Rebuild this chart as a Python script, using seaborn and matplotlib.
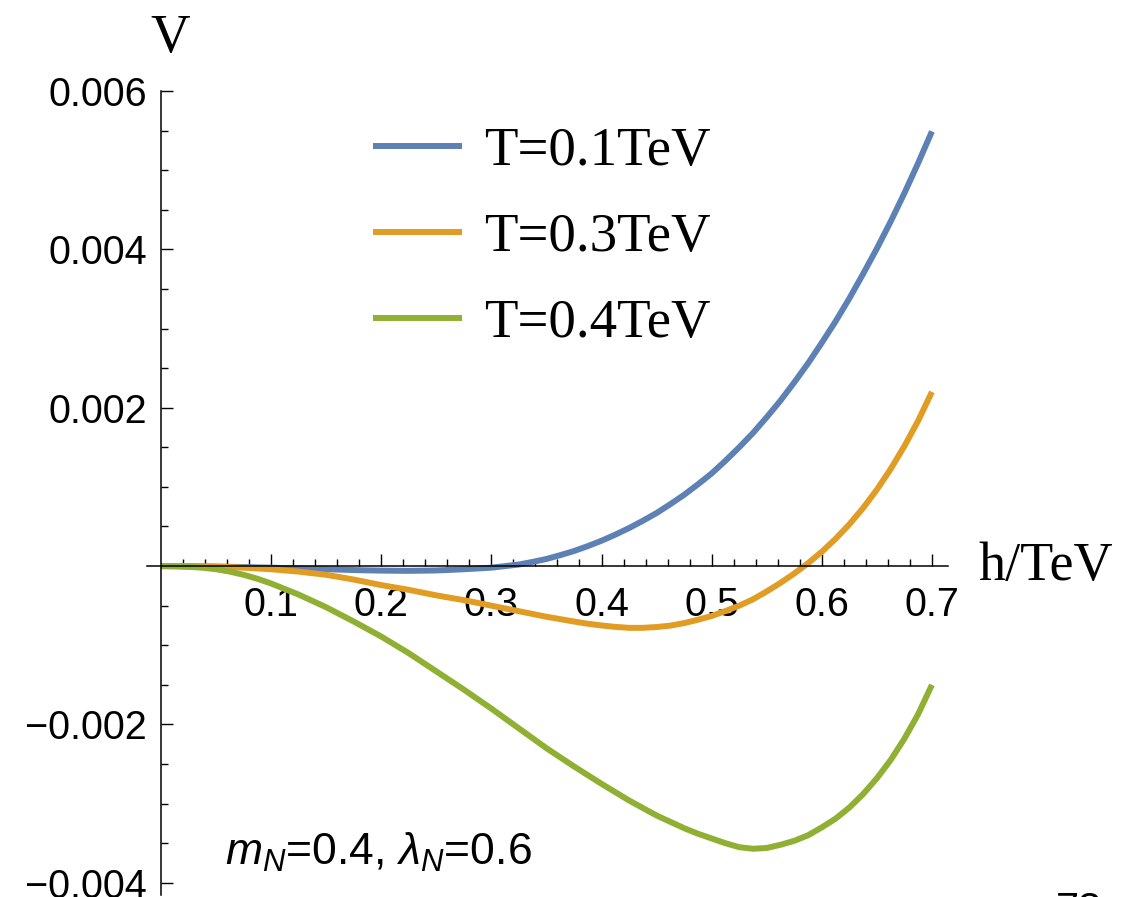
import matplotlib
matplotlib.use("Agg")
import matplotlib.pyplot as plt
import numpy as np
import pandas as pd
import seaborn as sns
from matplotlib.ticker import FixedLocator, FuncFormatter

# Effective potential V(h) at three temperatures (m_N = 0.4, lambda_N = 0.6)
h_vals = [0.0, 0.0125, 0.025, 0.0375, 0.05, 0.0625, 0.075, 0.0875, 0.1, 0.1125,
          0.125, 0.1375, 0.15, 0.1625, 0.175, 0.1875, 0.2, 0.2125, 0.225, 0.2375,
          0.25, 0.2625, 0.275, 0.2875, 0.3, 0.3125, 0.325, 0.3375, 0.35, 0.3625,
          0.375, 0.3875, 0.4, 0.4125, 0.425, 0.4375, 0.45, 0.4625, 0.475, 0.4875,
          0.5, 0.5125, 0.525, 0.5375, 0.55, 0.5625, 0.575, 0.5875, 0.6, 0.6125,
          0.625, 0.6375, 0.65, 0.6625, 0.675, 0.6875, 0.7]

v_T01 = [0.0, -0.0000005, -0.000002, -0.000004, -0.000006, -0.000009, -0.000012,
         -0.000016, -0.00002, -0.000025, -0.00003, -0.000035, -0.00004, -0.000045,
         -0.00005, -0.000054, -0.000057, -0.000059, -0.00006, -0.000058, -0.000055,
         -0.000048, -0.00004, -0.00003, -0.00002, 0.0, 0.00002, 0.000053, 0.00009,
         0.000138, 0.00019, 0.000252, 0.00032, 0.000397, 0.00048, 0.000572, 0.00067,
         0.000782, 0.0009, 0.001032, 0.00117, 0.00133, 0.0015, 0.00168, 0.00188,
         0.00209, 0.00232, 0.00256, 0.00282, 0.00309, 0.00338, 0.00369, 0.00401,
         0.00435, 0.00471, 0.00509, 0.00549]

v_T03 = [0.0, -0.0000005, -0.000002, -0.000005, -0.000008, -0.000013, -0.00002,
         -0.00003, -0.00004, -0.000055, -0.00007, -0.00009, -0.00011, -0.00014,
         -0.00017, -0.000205, -0.00024, -0.00027, -0.0003, -0.000335, -0.00037,
         -0.0004, -0.00043, -0.000465, -0.0005, -0.000535, -0.00057, -0.000605,
         -0.00064, -0.00067, -0.0007, -0.000728, -0.00075, -0.000768, -0.00078,
         -0.00078, -0.00077, -0.000752, -0.00072, -0.000678, -0.00063, -0.000568,
         -0.0005, -0.00042, -0.00032, -0.000212, -0.000094, 0.000036, 0.000181,
         0.000344, 0.000527, 0.000733, 0.000965, 0.001225, 0.001515, 0.001835, 0.0022]

v_T04 = [0.0, -0.000003, -0.00001, -0.00002, -0.00004, -0.00007, -0.00011, -0.00016,
         -0.00022, -0.00029, -0.00036, -0.00044, -0.00052, -0.00061, -0.0007,
         -0.000795, -0.00089, -0.000995, -0.0011, -0.001215, -0.00133, -0.001445,
         -0.00156, -0.00168, -0.0018, -0.001925, -0.00205, -0.002175, -0.0023,
         -0.002415, -0.00253, -0.00264, -0.00275, -0.002855, -0.00296, -0.003055,
         -0.00315, -0.00323, -0.00331, -0.00338, -0.00344, -0.0035, -0.00355,
         -0.00357, -0.00356, -0.00352, -0.00347, -0.0034, -0.0033, -0.00319,
         -0.00305, -0.00288, -0.00268, -0.00245, -0.00218, -0.00187, -0.0015]

series_labels = ["T=0.1TeV", "T=0.3TeV", "T=0.4TeV"]
series_colors = ["#5E81B5", "#E19C24", "#8FB032"]

x_major = [0.1, 0.2, 0.3, 0.4, 0.5, 0.6, 0.7]
y_major = [-0.004, -0.002, 0.002, 0.004, 0.006]

df = pd.concat([
    pd.DataFrame({"h": h_vals, "V": v, "T": lab})
    for v, lab in zip([v_T01, v_T03, v_T04], series_labels)
], ignore_index=True)

sns.set_style("white")
plt.rcParams["font.family"] = ["Liberation Sans", "DejaVu Sans"]
plt.rcParams["mathtext.fontset"] = "custom"
plt.rcParams["mathtext.rm"] = "Liberation Sans"
plt.rcParams["mathtext.it"] = "Liberation Sans:italic"
plt.rcParams["axes.unicode_minus"] = True
for key in ("text.color", "axes.labelcolor", "xtick.color", "ytick.color"):
    plt.rcParams[key] = "black"

W, H = 1132, 897
fig = plt.figure(figsize=(W / 100, H / 100), dpi=100)
ax = fig.add_axes([147 / W, 1 - 895 / H, (948 - 147) / W, (895 - 91) / H])

sns.lineplot(data=df, x="h", y="V", hue="T", hue_order=series_labels,
             palette=series_colors, linewidth=4.3, errorbar=None,
             solid_capstyle="butt", ax=ax)

ax.set_xlim(-0.0127, 0.7146)
ax.set_ylim(-0.004154, 0.006)

# Axes crossing at the origin
for side in ("top", "right"):
    ax.spines[side].set_visible(False)
ax.spines["left"].set_position(("data", 0))
ax.spines["bottom"].set_position(("data", 0))
for side in ("left", "bottom"):
    ax.spines[side].set_linewidth(1.1)
    ax.spines[side].set_color("black")

ax.xaxis.set_major_locator(FixedLocator(x_major))
ax.xaxis.set_minor_locator(FixedLocator(
    [k * 0.02 for k in range(1, 36) if k % 5 != 0]))
ax.yaxis.set_major_locator(FixedLocator(y_major))
ax.yaxis.set_minor_locator(FixedLocator(
    [k * 0.0005 for k in range(-8, 13) if k % 4 != 0]))
ax.xaxis.set_major_formatter(FuncFormatter(lambda v, p: f"{v:.1f}"))
ax.yaxis.set_major_formatter(FuncFormatter(lambda v, p: f"{v:.3f}".replace("-", "\u2212")))

ax.tick_params(which="both", bottom=True, left=True, top=False, right=False)
ax.tick_params(which="major", direction="in", length=8.5, width=1.0,
               color="black", labelsize=28.5, labelcolor="black")
ax.tick_params(which="minor", direction="in", length=5, width=1.0, color="black")
ax.tick_params(axis="x", which="major", pad=14)
ax.tick_params(axis="y", which="major", pad=10)
ax.set_xlabel("")
ax.set_ylabel("")

serif = ["Liberation Serif", "DejaVu Serif"]
handles, labels = ax.get_legend_handles_labels()
leg = ax.legend(handles, labels, loc="upper left",
                bbox_to_anchor=(373 / W, 1 - 127 / H), bbox_transform=fig.transFigure,
                frameon=False, prop={"family": serif, "size": 39.5},
                handlelength=1.62, handletextpad=0.40, labelspacing=0.645,
                borderpad=0, borderaxespad=0)
for line in leg.get_lines():
    line.set_linewidth(4.3)
    line.set_solid_capstyle("butt")
for txt in leg.get_texts():
    txt.set_color("black")

fig.text(170 / W, 1 - 39 / H, "V", ha="center", va="center",
         family=serif, fontsize=39.5)
fig.text(978 / W, 1 - 580 / H, "h/TeV", ha="left", va="baseline",
         family=serif, fontsize=39)
fig.text(225 / W, 1 - 865 / H, r"$m_N$=0.4, $\lambda_N$=0.6", ha="left",
         va="baseline", fontsize=32)
fig.text(1056 / W, 1 - 922 / H, "78", ha="left", va="baseline", fontsize=30)

fig.savefig("out.png", dpi=100)
